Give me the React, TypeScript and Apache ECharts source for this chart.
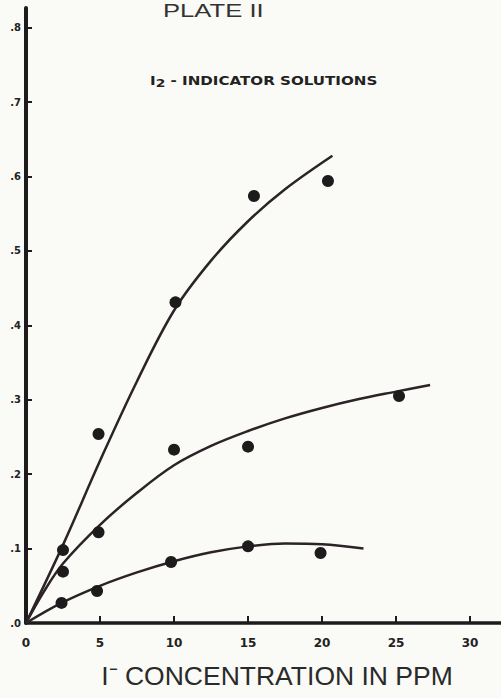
import React, { useEffect, useRef } from "react";
import * as echarts from "echarts";

// Axis ticks
const xTicks = [0, 5, 10, 15, 20, 25, 30];
const yTicks = [0, 0.1, 0.2, 0.3, 0.4, 0.5, 0.6, 0.7, 0.8];

// Measured points (I- concentration ppm, absorbance)
const upperPointsX = [2.5, 4.9, 10.1, 15.4, 20.4];
const upperPointsY = [0.098, 0.254, 0.431, 0.574, 0.594];
const middlePointsX = [2.5, 4.9, 10.0, 15.0, 25.2];
const middlePointsY = [0.069, 0.122, 0.233, 0.237, 0.305];
const lowerPointsX = [2.4, 4.8, 9.8, 15.0, 19.9];
const lowerPointsY = [0.027, 0.043, 0.082, 0.103, 0.094];

// Hand-drawn fitted curves
const upperCurveX = [0, 2.5, 5, 7.5, 10, 12.5, 15, 17.5, 20.7];
const upperCurveY = [0, 0.105, 0.218, 0.325, 0.42, 0.487, 0.54, 0.583, 0.628];
const middleCurveX = [0, 1.2, 2.5, 5, 7.5, 10, 12.5, 15, 17.5, 20, 22.5, 25, 27.3];
const middleCurveY = [0, 0.042, 0.08, 0.132, 0.175, 0.212, 0.238, 0.258, 0.275, 0.289, 0.301, 0.311, 0.32];
const lowerCurveX = [0, 2.4, 5, 7.5, 10, 12.5, 15, 17.5, 20, 22.8];
const lowerCurveY = [0, 0.027, 0.05, 0.068, 0.083, 0.095, 0.103, 0.107, 0.106, 0.1];

const zip = (xs: number[], ys: number[]) => xs.map((x, i) => [x, ys[i]]);

const INK = "#1d1b1c";
const LINE = "#2b2327";

export default function App() {
  const ref = useRef<HTMLDivElement>(null);
  useEffect(() => {
    if (!ref.current) return;
    const chart = echarts.init(ref.current, undefined, { renderer: "svg" });
    const curve = (xs: number[], ys: number[]) => ({
      type: "line",
      data: zip(xs, ys),
      smooth: 0.35,
      showSymbol: false,
      symbol: "none",
      lineStyle: { color: LINE, width: 2.5 },
      z: 2,
    });
    const pts = (xs: number[], ys: number[]) => ({
      type: "scatter",
      data: zip(xs, ys),
      symbolSize: 12,
      itemStyle: { color: INK, opacity: 1 },
      z: 3,
    });
    chart.setOption({
      animation: false,
      backgroundColor: "#fafaf6",
      grid: { left: 26, right: 0, top: 8, bottom: 75, containLabel: false },
      xAxis: {
        type: "value",
        min: 0,
        max: 32.09,
        interval: 5,
        splitLine: { show: false },
        axisLine: { show: true, lineStyle: { color: INK, width: 3.5 } },
        axisTick: {
          show: true,
          inside: true,
          length: 7,
          customValues: xTicks,
          lineStyle: { color: INK, width: 2 },
        },
        axisLabel: {
          customValues: xTicks,
          formatter: (v: number) => String(v),
          margin: 14,
          color: "#222",
          fontFamily: "DejaVu Sans",
          fontWeight: "bold",
          fontSize: 12,
        },
      },
      yAxis: {
        type: "value",
        min: 0,
        max: 0.8266,
        interval: 0.1,
        splitLine: { show: false },
        axisLine: { show: true, lineStyle: { color: INK, width: 4 } },
        axisTick: {
          show: true,
          inside: true,
          length: 6,
          customValues: yTicks,
          lineStyle: { color: INK, width: 2 },
        },
        axisLabel: {
          customValues: yTicks,
          formatter: (v: number) => "." + Math.round(v * 10),
          margin: 5,
          color: "#222",
          fontFamily: "DejaVu Sans",
          fontWeight: "bold",
          fontSize: 10,
        },
      },
      graphic: [
        {
          type: "text",
          x: 163,
          y: 11,
          scaleX: 1.35,
          style: {
            text: "PLATE II",
            fontFamily: "Liberation Sans",
            fontSize: 19,
            fill: "#333",
            textVerticalAlign: "middle",
          },
        },
        {
          type: "text",
          x: 150,
          y: 81,
          scaleX: 1.26,
          style: {
            text: "I{s|2} - INDICATOR SOLUTIONS",
            fontFamily: "DejaVu Sans",
            fontWeight: "bold",
            fontSize: 12,
            fill: "#222",
            textVerticalAlign: "middle",
            rich: {
              s: {
                fontFamily: "DejaVu Sans",
                fontWeight: "bold",
                fontSize: 11,
                fill: "#222",
                padding: [5, 0, 0, 0],
              },
            },
          },
        },
        {
          type: "text",
          x: 277,
          y: 676,
          style: {
            text: "I⁻ CONCENTRATION IN PPM",
            fontFamily: "Liberation Sans",
            fontSize: 26.5,
            fill: "#2a2a2a",
            textAlign: "center",
            textVerticalAlign: "middle",
          },
        },
      ],
      series: [
        curve(upperCurveX, upperCurveY),
        curve(middleCurveX, middleCurveY),
        curve(lowerCurveX, lowerCurveY),
        pts(upperPointsX, upperPointsY),
        pts(middlePointsX, middlePointsY),
        pts(lowerPointsX, lowerPointsY),
      ],
    });
    return () => chart.dispose();
  }, []);
  return (
    <div
      ref={ref}
      style={{ position: "fixed", left: 0, top: 0, width: 501, height: 698, background: "#fafaf6" }}
    />
  );
}
